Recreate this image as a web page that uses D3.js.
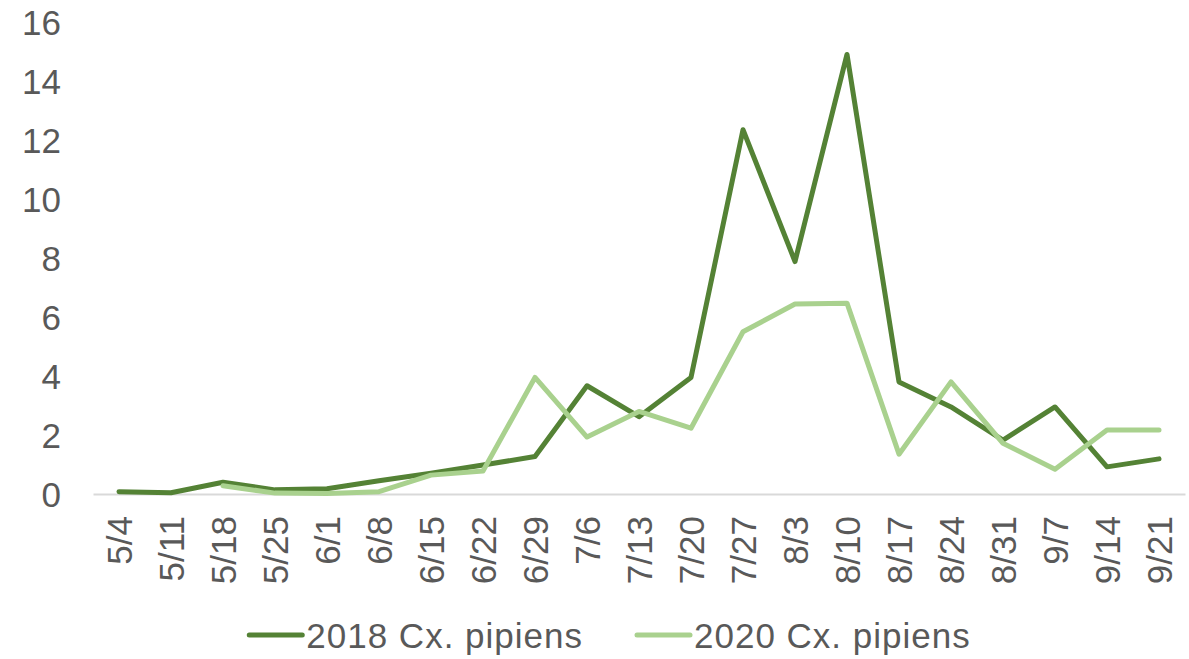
<!DOCTYPE html>
<meta charset="utf-8">
<style>
body { margin: 0; background: #fff; }
text { font-family: "Liberation Sans", Arial, Helvetica, sans-serif; fill: #595959; }
</style>
<body>
<script src="https://cdn.jsdelivr.net/npm/d3@7"></script>
<script>

const weeks = ["5/4", "5/11", "5/18", "5/25", "6/1", "6/8", "6/15", "6/22", "6/29", "7/6",
  "7/13", "7/20", "7/27", "8/3", "8/10", "8/17", "8/24", "8/31", "9/7", "9/14", "9/21"];

const pipiens2018 = [0.08, 0.04, 0.4, 0.14, 0.18, 0.45, 0.7, 0.98, 1.27, 3.67,
  2.62, 3.95, 12.35, 7.88, 14.9, 3.8, 2.95, 1.83, 2.95, 0.92, 1.19];

const pipiens2020 = [null, null, 0.28, 0.03, 0.02, 0.08, 0.64, 0.78, 3.95, 1.93,
  2.8, 2.23, 5.5, 6.44, 6.47, 1.35, 3.8, 1.72, 0.84, 2.17, 2.17];

const yTicks = [0, 2, 4, 6, 8, 10, 12, 14, 16];

const seriesNames = ["2018 Cx. pipiens", "2020 Cx. pipiens"];
const seriesColors = ["#548235", "#a9d18e"];

const width = 1189, height = 659;
const plotLeft = 93, plotRight = 1185, plotTop = 22, plotBottom = 494;
const fontSize = "35px";

let svg = d3.select("body").append("svg")
    .attr("width", width)
    .attr("height", height);

let x = d3.scaleBand()
    .domain(weeks)
    .range([plotLeft, plotRight]);

let y = d3.scaleLinear()
    .domain([0, 16])
    .range([plotBottom, plotTop]);

// y labels, no axis line
let yAxis = svg.append("g")
    .attr("transform", "translate(" + plotLeft + ",0)")
    .call(d3.axisLeft(y).tickValues(yTicks).tickSize(0).tickPadding(32));
yAxis.select(".domain").remove();
yAxis.selectAll("text")
    .attr("fill", "#595959")
    .style("font-size", fontSize)
    .attr("dy", "0.36em");

// category axis
let xAxis = svg.append("g")
    .attr("transform", "translate(0," + plotBottom + ")")
    .call(d3.axisBottom(x).tickSize(0).tickPadding(0));
xAxis.select(".domain")
    .attr("stroke", "#d9d9d9")
    .attr("stroke-width", 2);
xAxis.selectAll("text")
    .attr("fill", "#595959")
    .style("font-size", fontSize)
    .attr("text-anchor", "end")
    .attr("transform", "translate(0,22) rotate(-90)")
    .attr("x", 0)
    .attr("y", 0)
    .attr("dy", "0.36em");

let line = d3.line()
    .defined(d => d != null)
    .x((d, i) => x(weeks[i]) + x.bandwidth() / 2)
    .y(d => y(d));

[pipiens2018, pipiens2020].forEach(function(series, k) {
  svg.append("path")
      .datum(series)
      .attr("fill", "none")
      .attr("stroke", seriesColors[k])
      .attr("stroke-width", 5)
      .attr("stroke-linejoin", "round")
      .attr("stroke-linecap", "round")
      .attr("d", line);
});

// legend, centred under the chart
let legend = svg.append("g");
let lx = 0;
seriesNames.forEach(function(name, k) {
  let g = legend.append("g").attr("transform", "translate(" + lx + ",0)");
  g.append("line")
      .attr("x1", 2).attr("x2", 55)
      .attr("y1", 0).attr("y2", 0)
      .attr("stroke", seriesColors[k])
      .attr("stroke-width", 5)
      .attr("stroke-linecap", "round");
  let t = g.append("text")
      .attr("x", 59)
      .attr("dy", "0.36em")
      .style("font-size", fontSize)
      .style("letter-spacing", "1px")
      .text(name);
  lx += 59 + t.node().getComputedTextLength() + 52;
});
lx -= 52;
legend.attr("transform", "translate(" + (609 - lx / 2) + ",635)");

</script>
